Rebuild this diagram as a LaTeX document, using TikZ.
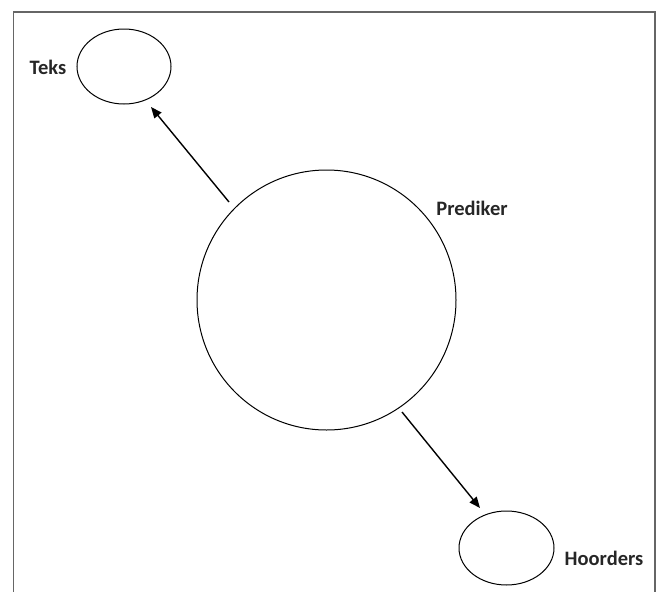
\documentclass[tikz,border=0pt]{standalone}
\usepackage{fontspec}
\setmainfont{Carlito}
\usetikzlibrary{arrows.meta,shapes.geometric}
\begin{document}
\begin{tikzpicture}[x=1pt,y=-1pt,
  ell/.style={draw=black,line width=1pt,ellipse,inner sep=0pt,outer sep=0pt},
  lbl/.style={font=\fontsize{20.5}{24}\selectfont\bfseries,text=black!85},
  arr/.style={draw=black,line width=1.4pt,-{Triangle[length=11pt,width=9pt]}}]
\useasboundingbox (0,0) rectangle (662,592);
\draw[draw=black!60,line width=1.2pt] (13.5,600) -- (13.5,12) -- (655,12) -- (655,600);
\node[ell,minimum width=94pt,minimum height=75pt] (teks) at (124,66.5) {};
\node[ell,minimum width=259pt,minimum height=260pt] (pred) at (326.5,300) {};
\node[ell,minimum width=95pt,minimum height=74pt] (hoor) at (506.5,548) {};
\node[lbl] (tekslbl) at (48,67) {Teks};
\node[lbl] (predlbl) at (472,208) {Prediker};
\node[lbl] (hoorlbl) at (604,558) {Hoorders};
\coordinate (a1s) at (229,202);
\coordinate (a1e) at (151,107);
\coordinate (a2s) at (402,412);
\coordinate (a2e) at (480,508);
\draw[arr] (a1s) -- (a1e);
\draw[arr] (a2s) -- (a2e);
\end{tikzpicture}
\end{document}
